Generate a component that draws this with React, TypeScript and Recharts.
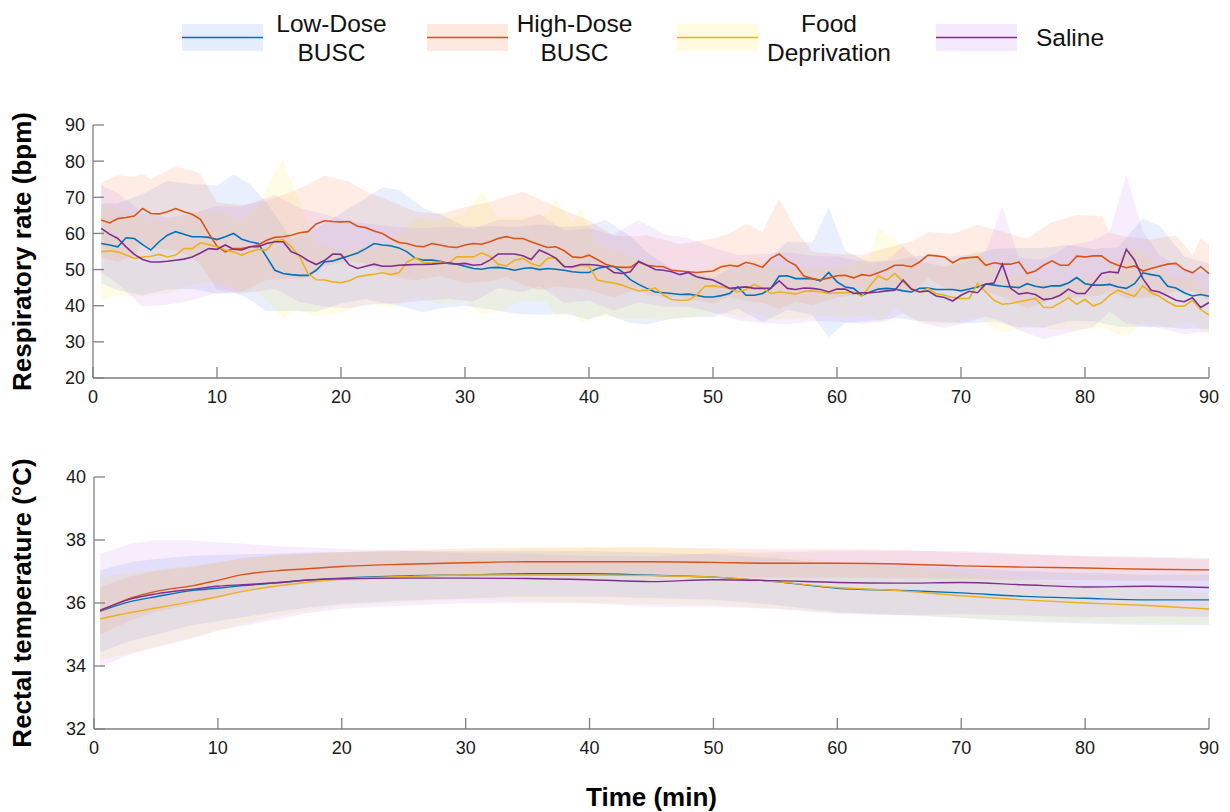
import { ComposedChart, Area, Line, XAxis, YAxis } from 'recharts';

// ---- respiratory rate (bpm), one sample every 40 s: sample k -> k / 1.5 min ----
const lowDoseRR = [
  57.2, 56.8, 56.3, 58.8, 58.6, 56.9, 55.4, 57.7, 59.5, 60.5, 59.8, 59.1, 59.1, 58.9, 58.3,
  59.1, 60.0, 58.4, 57.7, 57.2, 53.5, 49.8, 48.9, 48.6, 48.4, 48.4, 49.8, 52.1, 52.4, 53.1,
  53.8, 54.6, 55.8, 57.2, 56.8, 56.6, 56.0, 54.9, 53.1, 52.6, 52.6, 52.3, 51.7, 51.5, 50.9,
  50.3, 50.1, 50.5, 50.6, 50.3, 49.8, 50.3, 50.5, 50.0, 50.3, 50.1, 49.8, 49.4, 49.2, 49.2,
  50.3, 50.8, 50.9, 49.4, 47.2, 45.9, 44.8, 43.8, 43.6, 43.4, 43.1, 43.2, 42.9, 42.4, 42.4,
  42.8, 43.4, 45.2, 42.9, 42.9, 43.4, 44.8, 48.2, 48.3, 47.5, 47.5, 47.5, 46.9, 49.2, 46.6,
  45.2, 44.8, 42.9, 43.8, 44.6, 44.8, 44.6, 44.1, 43.8, 44.8, 44.9, 44.5, 44.5, 44.5, 44.1,
  44.6, 45.2, 46.0, 45.7, 45.4, 45.2, 45.0, 46.1, 45.4, 45.0, 45.5, 45.5, 46.3, 47.8, 46.1,
  45.7, 45.7, 45.9, 45.2, 44.8, 46.1, 49.1, 48.6, 48.2, 45.4, 44.9, 43.6, 42.7, 43.1, 42.6,
];
const highDoseRR = [
  63.7, 62.9, 64.1, 64.4, 64.8, 66.9, 65.5, 65.4, 66.0, 66.9, 66.0, 65.3, 63.9, 60.0, 56.5,
  54.9, 55.8, 55.8, 56.3, 56.8, 58.1, 58.9, 59.1, 59.5, 60.2, 60.5, 62.6, 63.5, 63.3, 63.2,
  63.3, 62.0, 61.6, 60.7, 60.0, 58.6, 57.5, 57.2, 56.5, 56.3, 57.2, 56.8, 56.3, 56.1, 56.8,
  57.2, 57.0, 57.7, 58.6, 59.1, 58.6, 58.6, 57.7, 56.9, 56.1, 56.3, 55.2, 53.5, 53.3, 54.0,
  52.8, 51.5, 50.8, 50.6, 50.6, 52.1, 51.2, 50.9, 50.8, 49.8, 49.6, 49.4, 49.2, 49.4, 49.6,
  50.8, 51.2, 50.9, 52.0, 51.5, 50.6, 53.1, 54.3, 52.4, 51.2, 48.2, 47.5, 47.1, 47.7, 48.3,
  48.4, 47.7, 48.6, 48.3, 49.1, 50.0, 51.2, 51.2, 50.8, 52.1, 54.0, 53.8, 53.5, 51.9, 53.1,
  53.3, 53.5, 51.2, 51.9, 51.5, 51.5, 52.1, 48.9, 49.6, 51.2, 52.4, 51.2, 51.2, 53.7, 53.5,
  53.8, 53.8, 52.1, 51.2, 50.5, 51.0, 49.6, 50.3, 50.9, 51.5, 51.7, 50.0, 49.1, 50.8, 48.9,
];
const foodDepRR = [
  54.9, 55.2, 54.9, 54.0, 53.1, 53.5, 53.7, 54.2, 53.5, 54.0, 55.8, 55.8, 57.4, 56.9, 56.3,
  55.4, 54.9, 54.0, 54.9, 55.6, 55.4, 58.0, 58.3, 56.3, 53.5, 48.9, 47.2, 47.1, 46.6, 46.4,
  46.9, 48.0, 48.4, 48.7, 49.1, 48.6, 49.1, 52.1, 53.2, 51.9, 51.9, 52.1, 51.7, 53.5, 53.5,
  53.5, 54.6, 53.7, 51.5, 51.0, 52.6, 53.1, 51.7, 50.9, 53.1, 53.3, 50.9, 50.5, 51.2, 50.9,
  47.1, 46.6, 46.3, 45.7, 44.8, 44.1, 44.3, 44.9, 42.9, 41.7, 41.5, 41.5, 42.9, 45.4, 45.5,
  45.2, 44.8, 43.8, 44.5, 45.9, 44.8, 43.4, 43.8, 43.6, 43.2, 44.0, 44.1, 43.8, 43.4, 43.6,
  43.6, 43.8, 42.6, 45.5, 48.3, 47.1, 48.9, 46.6, 44.6, 43.8, 44.8, 43.4, 42.9, 42.3, 42.0,
  42.0, 46.1, 43.8, 41.5, 40.4, 40.6, 41.1, 41.5, 42.0, 39.5, 39.5, 40.8, 42.2, 40.4, 41.7,
  39.9, 40.8, 42.9, 44.3, 43.4, 42.6, 45.5, 43.6, 42.6, 41.1, 39.9, 39.9, 41.5, 38.9, 37.4,
];
const salineRR = [
  61.4, 59.8, 58.6, 56.3, 54.2, 52.8, 52.1, 52.1, 52.3, 52.6, 52.9, 53.5, 54.6, 55.8, 55.6,
  56.8, 55.6, 55.4, 56.3, 56.3, 57.2, 57.7, 57.7, 54.9, 54.0, 52.5, 51.4, 52.5, 54.3, 54.2,
  51.3, 50.3, 50.9, 51.5, 50.9, 50.9, 51.2, 51.3, 51.4, 51.4, 51.5, 51.7, 51.9, 51.5, 51.7,
  51.2, 51.4, 52.6, 54.3, 54.3, 54.3, 53.8, 52.8, 55.4, 54.4, 53.1, 50.8, 50.8, 51.4, 51.4,
  51.2, 50.8, 49.2, 48.9, 49.4, 52.3, 51.2, 50.0, 49.8, 49.4, 48.6, 49.2, 48.0, 47.5, 47.1,
  46.0, 44.8, 45.0, 45.2, 44.8, 44.8, 44.9, 46.9, 44.8, 44.5, 44.9, 44.8, 44.5, 43.8, 44.6,
  44.6, 43.4, 43.6, 43.6, 43.8, 44.1, 44.3, 47.1, 44.6, 43.8, 44.1, 42.7, 42.3, 41.3, 42.9,
  44.0, 43.6, 46.0, 46.3, 51.5, 44.8, 43.2, 43.6, 43.1, 41.7, 42.0, 42.9, 44.6, 43.4, 43.4,
  46.1, 48.9, 49.4, 49.1, 55.6, 52.6, 47.5, 44.3, 43.8, 42.7, 41.5, 41.1, 42.2, 39.5, 40.9,
];

// shaded SD, as [sample number, SD]
const lowDoseRRSd: [number, number][] = [
  [1, 11], [3, 12], [6, 14], [9, 15], [12, 14.5], [15, 15], [17, 16.3], [19, 16], [21, 15], [24, 10],
  [27, 11.5], [30, 12.5], [33, 14], [35, 16], [37, 16], [40, 14.4], [42, 13], [45, 11], [48, 11.5], [51, 12],
  [54, 12.5], [57, 12], [60, 13], [62, 13], [65, 12], [67, 10], [70, 7], [73, 6], [75, 5.5], [78, 6],
  [81, 8], [84, 9.5], [87, 10], [89, 18], [91, 10], [94, 8], [97, 8], [100, 9], [103, 9], [106, 9.5],
  [109, 10], [112, 11], [115, 11], [118, 10.5], [121, 10], [124, 11], [127, 15], [129, 14], [132, 10], [135, 9],
];
const highDoseRRSd: [number, number][] = [
  [1, 10.4], [3, 12], [5, 10.8], [6, 9.6], [7, 9.5], [10, 11.6], [12, 12.2], [13, 12.4], [15, 12], [18, 12],
  [21, 11], [24, 12], [26, 13], [28, 12.5], [31, 11], [33, 10], [36, 10.4], [39, 9.5], [42, 8.6], [45, 10.5],
  [48, 11], [50, 11.1], [52, 12.9], [54, 12.6], [56, 11], [60, 9.6], [63, 8.5], [66, 7.1], [67, 8.3], [71, 7.4],
  [75, 9], [77, 8.8], [79, 10.7], [81, 9.8], [83, 15.2], [85, 10.1], [87, 7.4], [90, 6], [93, 5.5], [96, 6],
  [99, 7], [101, 6.4], [104, 8], [107, 8.8], [110, 9], [113, 9.7], [116, 10.7], [119, 11.4], [122, 11], [123, 8],
  [125, 8.6], [128, 8], [131, 7.8], [133, 5], [134, 7.8], [135, 7.9],
];
const foodDepRRSd: [number, number][] = [
  [1, 13.4], [3, 12], [6, 11], [9, 10], [12, 10], [15, 9.5], [18, 10], [20, 12], [22, 19], [23, 22],
  [24, 18], [25, 15], [27, 10], [30, 8.5], [33, 8], [36, 9], [39, 11], [42, 11.5], [45, 12], [47, 17],
  [49, 13], [52, 11.6], [55, 12], [56, 16.4], [58, 12], [59, 16], [61, 10], [64, 9], [67, 8], [70, 5.5],
  [73, 6], [76, 7], [79, 8], [80, 8], [82, 7], [85, 7], [88, 6.5], [91, 7], [94, 8], [95, 13],
  [97, 9.7], [100, 8], [103, 8], [107, 9.3], [110, 8], [113, 7], [116, 6], [119, 7], [122, 7], [125, 12],
  [127, 10], [130, 7], [133, 6], [135, 6],
];
const salineRRSd: [number, number][] = [
  [1, 12], [3, 12.5], [6, 13], [9, 12], [12, 12], [15, 12], [18, 12], [22, 13], [25, 13], [28, 12.8],
  [31, 12], [34, 11], [37, 10.5], [40, 10], [43, 10], [46, 10], [49, 9.5], [52, 10], [54, 10], [57, 10],
  [60, 10], [63, 10.5], [66, 11.4], [69, 10], [72, 9.5], [75, 9], [78, 9], [81, 9.5], [84, 10], [87, 9],
  [90, 9], [93, 8.6], [96, 8.5], [98, 9.2], [100, 8.5], [103, 8.5], [106, 8.5], [108, 9], [110, 15.9], [112, 10],
  [115, 11], [118, 12], [121, 12], [123, 11], [125, 20.6], [127, 13], [129, 10], [132, 9], [135, 8],
];

// ---- rectal temperature (°C) ----
const tempTime = [0.5, 3, 5, 8, 10, 12, 15, 17, 20, 25, 30, 35, 40, 45, 50, 55, 60, 65, 70, 75, 80, 85, 90];
const lowDoseTemp = [35.74, 36.05, 36.2, 36.4, 36.47, 36.55, 36.65, 36.72, 36.79, 36.86, 36.89, 36.93, 36.93, 36.88, 36.82, 36.68, 36.47, 36.4, 36.32, 36.21, 36.15, 36.1, 36.1];
const highDoseTemp = [35.74, 36.16, 36.37, 36.55, 36.72, 36.9, 37.03, 37.08, 37.16, 37.23, 37.28, 37.31, 37.31, 37.31, 37.29, 37.26, 37.26, 37.24, 37.18, 37.14, 37.11, 37.07, 37.05];
const foodDepTemp = [35.5, 35.7, 35.84, 36.05, 36.2, 36.37, 36.55, 36.65, 36.76, 36.84, 36.89, 36.89, 36.89, 36.87, 36.82, 36.68, 36.49, 36.39, 36.23, 36.1, 36.0, 35.92, 35.81];
const salineTemp = [35.77, 36.13, 36.29, 36.44, 36.53, 36.58, 36.65, 36.72, 36.77, 36.79, 36.79, 36.78, 36.74, 36.68, 36.74, 36.71, 36.65, 36.63, 36.65, 36.58, 36.51, 36.53, 36.49];
const lowDoseTempSd = [1.3, 1.25, 1.2, 1.1, 1.05, 1.0, 0.92, 0.88, 0.82, 0.78, 0.75, 0.72, 0.72, 0.72, 0.72, 0.74, 0.76, 0.78, 0.8, 0.8, 0.8, 0.8, 0.8];
const highDoseTempSd = [0.75, 0.7, 0.65, 0.6, 0.56, 0.53, 0.5, 0.48, 0.46, 0.45, 0.45, 0.45, 0.45, 0.45, 0.45, 0.45, 0.45, 0.45, 0.42, 0.4, 0.38, 0.36, 0.35];
const foodDepTempSd = [1.32, 1.28, 1.22, 1.15, 1.1, 1.02, 0.95, 0.9, 0.85, 0.8, 0.78, 0.82, 0.88, 0.9, 0.88, 0.85, 0.8, 0.75, 0.7, 0.65, 0.6, 0.55, 0.5];
const salineTempSd = [1.8, 1.75, 1.7, 1.55, 1.4, 1.3, 1.15, 1.05, 0.95, 0.87, 0.8, 0.78, 0.75, 0.8, 0.85, 0.9, 1.0, 1.02, 1.0, 0.98, 0.97, 0.95, 0.93];

const timeTicks = [0, 10, 20, 30, 40, 50, 60, 70, 80, 90];
const rrTicks = [20, 30, 40, 50, 60, 70, 80, 90];
const tempTicks = [32, 34, 36, 38, 40];

const series = [
  { key: 'low', label: ['Low-Dose', 'BUSC'], color: '#0072BD', band: '#4d7ff0', swatch: '#e6edfd' },
  { key: 'high', label: ['High-Dose', 'BUSC'], color: '#D95319', band: '#f56a30', swatch: '#fde9e0' },
  { key: 'food', label: ['Food', 'Deprivation'], color: '#EDB120', band: '#f5eb30', swatch: '#fefbe0' },
  { key: 'saline', label: ['Saline'], color: '#7E2F8E', band: '#c070f0', swatch: '#f5e9fd' },
];

const FONT = "'Liberation Sans', Arial, Helvetica, sans-serif";
const AXIS = '#808080';
const TICK_LEN = 11;
const BAND_OPACITY = 0.125;

// build tables
const rrRows: any[] = lowDoseRR.map((_, k) => ({
  t: (k + 1) / 1.5,
  low: lowDoseRR[k],
  high: highDoseRR[k],
  food: foodDepRR[k],
  saline: salineRR[k],
  lowBand: [null, null],
  highBand: [null, null],
  foodBand: [null, null],
  salineBand: [null, null],
}));
function addBand(key: string, sd: [number, number][]) {
  sd.forEach(([n, s]) => {
    const row = rrRows[n - 1];
    row[key + 'Band'] = [row[key] - s, row[key] + s];
  });
}
addBand('low', lowDoseRRSd);
addBand('high', highDoseRRSd);
addBand('food', foodDepRRSd);
addBand('saline', salineRRSd);

const tempRows = tempTime.map((t, k) => ({
  t,
  low: lowDoseTemp[k],
  high: highDoseTemp[k],
  food: foodDepTemp[k],
  saline: salineTemp[k],
  lowBand: [lowDoseTemp[k] - lowDoseTempSd[k], lowDoseTemp[k] + lowDoseTempSd[k]],
  highBand: [highDoseTemp[k] - highDoseTempSd[k], highDoseTemp[k] + highDoseTempSd[k]],
  foodBand: [foodDepTemp[k] - foodDepTempSd[k], foodDepTemp[k] + foodDepTempSd[k]],
  salineBand: [salineTemp[k] - salineTempSd[k], salineTemp[k] + salineTempSd[k]],
}));

// MATLAB style ticks: marks point into the plot, labels outside
function XTick(props: any) {
  const { x, y, payload } = props;
  const axisY = y - 12;
  return (
    <g>
      <line x1={x} x2={x} y1={axisY} y2={axisY - TICK_LEN} stroke={AXIS} strokeWidth={1.3} />
      <text x={x} y={y} dy="0.71em" textAnchor="middle" fontSize={18} fontFamily={FONT} fill="#1a1a1a">
        {payload.value}
      </text>
    </g>
  );
}

function YTick(props: any) {
  const { x, y, payload } = props;
  const axisX = x + 8;
  return (
    <g>
      <line x1={axisX} x2={axisX + TICK_LEN} y1={y} y2={y} stroke={AXIS} strokeWidth={1.3} />
      <text x={x} y={y} dy="0.355em" textAnchor="end" fontSize={18} fontFamily={FONT} fill="#1a1a1a">
        {payload.value}
      </text>
    </g>
  );
}

function Panel({ data, yDomain, yTicks, lineType, lineWidth, height, margin, yWidth }: any) {
  return (
    <ComposedChart width={1230} height={height} data={data} margin={margin}>
      <XAxis
        type="number"
        dataKey="t"
        domain={[0, 90]}
        ticks={timeTicks}
        interval={0}
        tickSize={0}
        tickMargin={12}
        tick={XTick}
        tickLine={false}
        axisLine={{ stroke: AXIS, strokeWidth: 1.3 }}
        height={30}
      />
      <YAxis
        type="number"
        domain={yDomain}
        ticks={yTicks}
        interval={0}
        tickSize={0}
        tickMargin={8}
        tick={YTick}
        tickLine={false}
        axisLine={{ stroke: AXIS, strokeWidth: 1.3 }}
        width={yWidth}
        allowDataOverflow
      />
      {series.map((s) => (
        <Area
          key={s.key + 'Band'}
          type="linear"
          dataKey={s.key + 'Band'}
          stroke="none"
          fill={s.band}
          fillOpacity={BAND_OPACITY}
          connectNulls
          dot={false}
          activeDot={false}
          isAnimationActive={false}
        />
      ))}
      {series.map((s) => (
        <Line
          key={s.key}
          type={lineType}
          dataKey={s.key}
          stroke={s.color}
          strokeWidth={lineWidth}
          dot={false}
          activeDot={false}
          isAnimationActive={false}
        />
      ))}
    </ComposedChart>
  );
}

const legendLayout = [
  { swatchX: 182, textX: 331.5 },
  { swatchX: 427, textX: 574.5 },
  { swatchX: 677, textX: 829 },
  { swatchX: 936, textX: 1070 },
];

function LegendBox() {
  return (
    <>
      {series.map((s, i) => {
        const pos = legendLayout[i];
        const lineH = 29;
        const top = 37.5 - (s.label.length * lineH) / 2;
        return (
          <div key={s.key}>
            <svg width={81} height={27} style={{ position: 'absolute', left: pos.swatchX, top: 24 }}>
              <rect x={0} y={0} width={81} height={27} fill={s.swatch} />
              <line x1={0} x2={81} y1={13.5} y2={13.5} stroke={s.color} strokeWidth={1.5} />
            </svg>
            <div
              style={{
                position: 'absolute',
                left: pos.textX - 80,
                width: 160,
                top,
                textAlign: 'center',
                fontSize: 24.5,
                lineHeight: lineH + 'px',
                color: '#111',
              }}
            >
              {s.label.map((l) => (
                <div key={l}>{l}</div>
              ))}
            </div>
          </div>
        );
      })}
    </>
  );
}

export default function App() {
  return (
    <div style={{ position: 'absolute', left: 0, top: 0, width: 1230, height: 812, background: '#fff', fontFamily: FONT }}>
      <div style={{ position: 'absolute', left: 0, top: 0 }}>
        <Panel
          data={rrRows}
          yDomain={[20, 90]}
          yTicks={rrTicks}
          lineType="linear"
          lineWidth={1.6}
          height={420}
          margin={{ top: 125, right: 21, bottom: 12, left: 0 }}
          yWidth={93}
        />
      </div>
      <div style={{ position: 'absolute', left: 0, top: 420 }}>
        <Panel
          data={tempRows}
          yDomain={[32, 40]}
          yTicks={tempTicks}
          lineType="monotone"
          lineWidth={1.4}
          height={392}
          margin={{ top: 57, right: 21, bottom: 53, left: 0 }}
          yWidth={94}
        />
      </div>
      <svg width={1230} height={812} style={{ position: 'absolute', left: 0, top: 0, pointerEvents: 'none' }}>
        <text x={31} y={251.5} transform="rotate(-90 31 251.5)" textAnchor="middle" fontSize={26} fontWeight="bold" fontFamily={FONT} fill="#000">
          Respiratory rate (bpm)
        </text>
        <text x={31} y={603} transform="rotate(-90 31 603)" textAnchor="middle" fontSize={26} fontWeight="bold" fontFamily={FONT} fill="#000">
          Rectal temperature (°C)
        </text>
        <text x={651.5} y={806} textAnchor="middle" fontSize={26} fontWeight="bold" fontFamily={FONT} fill="#000">
          Time (min)
        </text>
      </svg>
      <LegendBox />
    </div>
  );
}
